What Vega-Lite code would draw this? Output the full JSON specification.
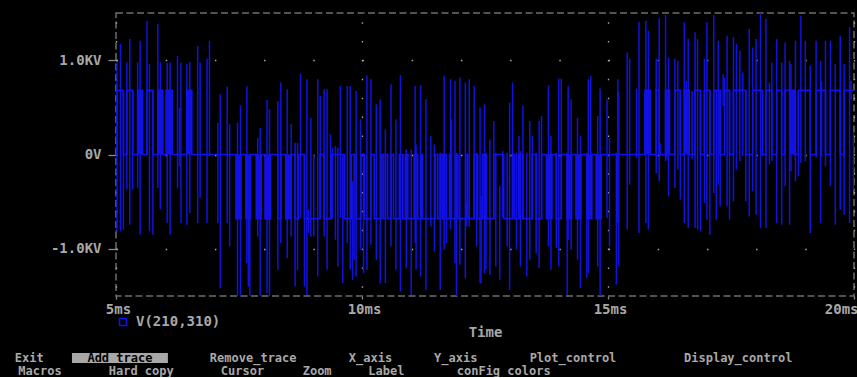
{
  "$schema": "https://vega.github.io/schema/vega-lite/v6.json",
  "background": "#000000",
  "padding": {"left": 14, "top": 12, "right": 0, "bottom": 0},
  "spacing": 12,
  "config": {
    "view": {"stroke": null},
    "font": "DejaVu Sans Mono",
    "text": {"font": "DejaVu Sans Mono", "fontSize": 12, "fontWeight": "bold"}
  },
  "datasets": {
    "lvl": [
      {"t":5.0,"v":0},{"t":5.02,"v":0.68},{"t":5.15,"v":0},{"t":5.22,"v":0.68},{"t":5.34,"v":0},{"t":5.44,"v":0.68},{"t":5.54,"v":0},{"t":5.63,"v":0.68},{"t":5.75,"v":0},{"t":5.85,"v":0.68},{"t":5.95,"v":0},{"t":6.02,"v":0.68},{"t":6.14,"v":0},{"t":6.44,"v":0.68},{"t":6.54,"v":0},
      {"t":7.44,"v":-0.68},{"t":7.54,"v":0},{"t":7.64,"v":-0.68},{"t":7.73,"v":0},{"t":7.85,"v":-0.68},{"t":7.95,"v":0},{"t":8.03,"v":-0.68},{"t":8.14,"v":0},{"t":8.29,"v":-0.68},{"t":8.35,"v":0},{"t":8.45,"v":-0.68},{"t":8.56,"v":0},{"t":8.64,"v":-0.68},{"t":8.71,"v":0},{"t":8.83,"v":-0.68},{"t":9.15,"v":0},{"t":9.23,"v":-0.68},{"t":9.38,"v":0},{"t":9.64,"v":-0.68},{"t":9.78,"v":0},{"t":9.88,"v":-0.68},{"t":9.98,"v":0},{"t":10.05,"v":-0.68},{"t":10.18,"v":0},{"t":10.25,"v":-0.68},{"t":10.39,"v":0},{"t":10.43,"v":-0.68},{"t":10.475,"v":0},{"t":10.52,"v":-0.68},{"t":10.59,"v":0},{"t":10.64,"v":-0.68},{"t":10.76,"v":0},{"t":10.83,"v":-0.68},{"t":10.88,"v":0},{"t":10.93,"v":-0.68},{"t":11.06,"v":0},{"t":11.13,"v":-0.68},{"t":11.2,"v":0},{"t":11.23,"v":-0.68},{"t":11.49,"v":0},{"t":11.54,"v":-0.68},{"t":11.59,"v":0},{"t":11.63,"v":-0.68},{"t":11.67,"v":0},{"t":11.71,"v":-0.68},{"t":11.78,"v":0},{"t":11.81,"v":-0.68},{"t":11.91,"v":0},{"t":11.95,"v":-0.68},{"t":12.11,"v":0},{"t":12.15,"v":-0.68},{"t":12.28,"v":0},{"t":12.35,"v":-0.68},{"t":12.45,"v":0},{"t":12.49,"v":-0.68},{"t":12.68,"v":0},{"t":12.88,"v":-0.68},{"t":13.06,"v":0},{"t":13.1,"v":-0.68},{"t":13.19,"v":0},{"t":13.27,"v":-0.68},{"t":13.46,"v":0},{"t":13.54,"v":-0.68},{"t":13.65,"v":0},{"t":13.75,"v":-0.68},{"t":13.86,"v":0},{"t":13.95,"v":-0.68},{"t":14.05,"v":0},{"t":14.17,"v":-0.68},{"t":14.26,"v":0},{"t":14.35,"v":-0.68},{"t":14.45,"v":0},{"t":14.57,"v":-0.68},{"t":14.67,"v":0},{"t":14.76,"v":-0.68},{"t":14.86,"v":0},
      {"t":15.75,"v":0.68},{"t":15.86,"v":0},{"t":15.98,"v":0.68},{"t":16.04,"v":0},{"t":16.17,"v":0.68},{"t":16.25,"v":0},{"t":16.36,"v":0.68},{"t":16.47,"v":0},{"t":16.55,"v":0.68},{"t":16.65,"v":0},{"t":16.77,"v":0.68},{"t":16.88,"v":0},{"t":16.96,"v":0.68},{"t":17.07,"v":0},{"t":17.15,"v":0.68},{"t":17.28,"v":0},{"t":17.37,"v":0.68},{"t":17.47,"v":0},{"t":17.55,"v":0.68},{"t":17.8,"v":0},{"t":17.94,"v":0.68},{"t":18.14,"v":0},{"t":18.21,"v":0.68},{"t":18.33,"v":0},{"t":18.43,"v":0.68},{"t":18.53,"v":0},{"t":18.6,"v":0.68},{"t":18.79,"v":0},{"t":18.87,"v":0.68},{"t":19.11,"v":0},{"t":19.23,"v":0.68},{"t":19.42,"v":0},{"t":19.52,"v":0.68},{"t":19.72,"v":0},{"t":19.8,"v":0.68},{"t":20.0,"v":0.68}
    ],
    "bnd": [
      {"t1":5.44,"t2":5.54,"lo":0,"hi":0.68},{"t1":5.85,"t2":5.95,"lo":0,"hi":0.68},{"t1":6.02,"t2":6.14,"lo":0,"hi":0.68},{"t1":6.44,"t2":6.54,"lo":0,"hi":0.68},
      {"t1":15.75,"t2":15.86,"lo":0,"hi":0.68},{"t1":16.17,"t2":16.25,"lo":0,"hi":0.68},{"t1":16.55,"t2":16.65,"lo":0,"hi":0.68},{"t1":18.69,"t2":18.79,"lo":0,"hi":0.68},
      {"t1":7.44,"t2":7.54,"lo":-0.68,"hi":0},{"t1":7.64,"t2":7.73,"lo":-0.68,"hi":0},{"t1":7.85,"t2":7.95,"lo":-0.68,"hi":0},{"t1":8.03,"t2":8.14,"lo":-0.68,"hi":0},{"t1":8.45,"t2":8.56,"lo":-0.68,"hi":0},
      {"t1":12.49,"t2":12.55,"lo":-0.68,"hi":0},{"t1":13.75,"t2":13.86,"lo":-0.68,"hi":0},{"t1":14.17,"t2":14.26,"lo":-0.68,"hi":0},{"t1":14.35,"t2":14.45,"lo":-0.68,"hi":0},{"t1":14.57,"t2":14.67,"lo":-0.68,"hi":0},{"t1":14.76,"t2":14.86,"lo":-0.68,"hi":0}
    ],
    "spk": [
      {"t":5.02,"lo":-0.815,"hi":0.976},{"t":5.09,"lo":-0.815,"hi":1.171},{"t":5.15,"lo":-0.797,"hi":0.674},{"t":5.22,"lo":-0.372,"hi":0.976},{"t":5.28,"lo":-0.744,"hi":1.224},{"t":5.34,"lo":-0.372,"hi":0.657},{"t":5.44,"lo":-0.354,"hi":0.976},{"t":5.49,"lo":-0.851,"hi":1.206},{"t":5.63,"lo":0,"hi":1.419},{"t":5.68,"lo":-0.815,"hi":0.958},{"t":5.75,"lo":-0.851,"hi":0.674},{"t":5.85,"lo":-0.354,"hi":1.383},{"t":5.9,"lo":-0.578,"hi":0.976},{"t":6.04,"lo":-0.726,"hi":0.976},{"t":6.1,"lo":-0.851,"hi":0.976},{"t":6.25,"lo":-0.354,"hi":1.047},{"t":6.29,"lo":-0.124,"hi":0.497},{"t":6.32,"lo":-0.726,"hi":0.976},{"t":6.44,"lo":-0.744,"hi":0.958},{"t":6.5,"lo":-0.62,"hi":0.983},{"t":6.66,"lo":-0.726,"hi":1.153},{"t":6.71,"lo":-0.46,"hi":0.976},{"t":6.85,"lo":-0.726,"hi":1.018},{"t":6.9,"lo":-0.017,"hi":1.206},
      {"t":7.07,"lo":-0.726,"hi":0.337},{"t":7.12,"lo":-1.418,"hi":0.639},{"t":7.26,"lo":-0.726,"hi":0.72},{"t":7.31,"lo":-0.975,"hi":0.32},{"t":7.47,"lo":-1.507,"hi":0.337},{"t":7.53,"lo":-1.507,"hi":0.522},{"t":7.66,"lo":-1.152,"hi":0.72},{"t":7.69,"lo":-1.4,"hi":0},{"t":7.72,"lo":-1.507,"hi":0},{"t":7.88,"lo":-0.868,"hi":0.178},{"t":7.93,"lo":-1.507,"hi":0.284},{"t":8.07,"lo":-1.471,"hi":0.578},{"t":8.12,"lo":-1.507,"hi":0.479},{"t":8.29,"lo":-1.223,"hi":0.568},{"t":8.35,"lo":-0.939,"hi":0.763},{"t":8.48,"lo":-1.099,"hi":0.692},{"t":8.56,"lo":-0.868,"hi":0.32},{"t":8.64,"lo":-1.4,"hi":0.125},{"t":8.69,"lo":-1.223,"hi":0.125},
      {"t":8.75,"lo":-0.673,"hi":0.852},{"t":8.83,"lo":-1.4,"hi":0},{"t":8.88,"lo":-1.489,"hi":0.798},{"t":8.91,"lo":-0.833,"hi":-0.585},{"t":8.96,"lo":-0.868,"hi":0.39},{"t":9.02,"lo":-0.868,"hi":0},{"t":9.1,"lo":-1.294,"hi":0.798},{"t":9.15,"lo":-0.673,"hi":0.621},{"t":9.23,"lo":-0.868,"hi":0.692},{"t":9.29,"lo":-1.223,"hi":0.692},{"t":9.36,"lo":-0.673,"hi":0.213},{"t":9.4,"lo":-0.673,"hi":0.071},{"t":9.46,"lo":-0.904,"hi":0.089},{"t":9.51,"lo":-1.188,"hi":0.071},{"t":9.56,"lo":-0.673,"hi":0.727},{"t":9.61,"lo":-1.365,"hi":0},{"t":9.7,"lo":-0.939,"hi":0.727},{"t":9.76,"lo":-1.223,"hi":0.727},{"t":9.81,"lo":-1.329,"hi":-0.283},{"t":9.84,"lo":-1.117,"hi":0},{"t":9.88,"lo":-1.294,"hi":0.674},{"t":9.97,"lo":-1.01,"hi":0.373},
      {"t":10.03,"lo":-1.258,"hi":0.018},{"t":10.1,"lo":-1.223,"hi":0.841},{"t":10.18,"lo":-0.957,"hi":0.798},{"t":10.29,"lo":-1.117,"hi":0.532},{"t":10.37,"lo":-1.365,"hi":0.586},{"t":10.475,"lo":-1.365,"hi":0.266},{"t":10.59,"lo":-0.975,"hi":0.745},{"t":10.69,"lo":-1.223,"hi":0.373},{"t":10.78,"lo":-1.454,"hi":0.841},{"t":10.9,"lo":-1.205,"hi":0.054},{"t":11.0,"lo":-1.489,"hi":0.054},{"t":11.08,"lo":-0.939,"hi":0.727},{"t":11.1,"lo":-1.223,"hi":0.107},{"t":11.19,"lo":-1.294,"hi":0.734},{"t":11.3,"lo":-1.436,"hi":0.586},{"t":11.4,"lo":-0.762,"hi":0.195},{"t":11.47,"lo":-1.028,"hi":0.107},{"t":11.59,"lo":-1.436,"hi":0.018},{"t":11.67,"lo":-1.01,"hi":0.834},{"t":11.72,"lo":-0.939,"hi":-0.532},{"t":11.8,"lo":-0.797,"hi":0.798},{"t":11.82,"lo":-0.673,"hi":0.373},{"t":11.89,"lo":-1.152,"hi":0.781},{"t":11.92,"lo":-1.507,"hi":0.018},{"t":11.99,"lo":-1.17,"hi":0.816},
      {"t":12.1,"lo":-1.312,"hi":0.763},{"t":12.13,"lo":-0.762,"hi":-0.514},{"t":12.18,"lo":-0.762,"hi":0.798},{"t":12.28,"lo":-0.673,"hi":0.727},{"t":12.33,"lo":-0.975,"hi":0.018},{"t":12.4,"lo":-1.365,"hi":0.497},{"t":12.42,"lo":-1.365,"hi":-0.443},{"t":12.49,"lo":-1.258,"hi":0.532},{"t":12.52,"lo":-1.223,"hi":0.018},{"t":12.6,"lo":-1.276,"hi":0.16},{"t":12.68,"lo":-0.673,"hi":0.355},{"t":12.72,"lo":-1.188,"hi":0.018},{"t":12.8,"lo":-1.329,"hi":-0.336},{"t":12.86,"lo":-0.673,"hi":0.036},{"t":12.95,"lo":-0.975,"hi":0.018},
      {"t":13.0,"lo":-1.436,"hi":0.55},{"t":13.06,"lo":-0.673,"hi":0.763},{"t":13.14,"lo":-1.01,"hi":0.018},{"t":13.19,"lo":-0.673,"hi":0.195},{"t":13.22,"lo":-1.188,"hi":0.036},{"t":13.27,"lo":-0.673,"hi":0.515},{"t":13.35,"lo":-1.294,"hi":0.018},{"t":13.41,"lo":-1.117,"hi":0.355},{"t":13.46,"lo":-0.673,"hi":0.195},{"t":13.54,"lo":-1.046,"hi":0.018},{"t":13.6,"lo":-1.205,"hi":0.355},{"t":13.65,"lo":-0.673,"hi":0.408},{"t":13.79,"lo":-0.975,"hi":0.734},{"t":13.84,"lo":-1.223,"hi":0.195},{"t":13.95,"lo":-0.992,"hi":0.018},
      {"t":14.0,"lo":-1.188,"hi":0.805},{"t":14.05,"lo":-0.673,"hi":0.805},{"t":14.17,"lo":-1.489,"hi":0.018},{"t":14.19,"lo":-0.904,"hi":0.727},{"t":14.25,"lo":-1.01,"hi":0.586},{"t":14.38,"lo":-1.117,"hi":0.39},{"t":14.44,"lo":-1.418,"hi":0.195},{"t":14.57,"lo":-1.312,"hi":0.018},{"t":14.6,"lo":-1.258,"hi":0.798},{"t":14.65,"lo":-0.673,"hi":0.834},{"t":14.79,"lo":-1.188,"hi":0.408},{"t":14.84,"lo":-1.507,"hi":0.699},{"t":14.98,"lo":-0.673,"hi":0.586},
      {"t":15.03,"lo":-0.975,"hi":0.178},{"t":15.17,"lo":-1.38,"hi":0.018},{"t":15.2,"lo":-0.726,"hi":0.798},{"t":15.22,"lo":-1.188,"hi":0.657},{"t":15.39,"lo":-0.797,"hi":1.082},{"t":15.44,"lo":-0.319,"hi":1.018},{"t":15.58,"lo":-0.035,"hi":0.699},{"t":15.63,"lo":-0.833,"hi":1.408},{"t":15.77,"lo":-0.726,"hi":1.419},{"t":15.82,"lo":-0.797,"hi":1.312},{"t":15.98,"lo":-0.195,"hi":1.018},
      {"t":16.04,"lo":-0.283,"hi":1.444},{"t":16.06,"lo":-0.017,"hi":0.125},{"t":16.17,"lo":-0.07,"hi":1.479},{"t":16.2,"lo":-0.053,"hi":0.692},{"t":16.23,"lo":-0.443,"hi":1.029},{"t":16.36,"lo":-0.354,"hi":1.018},{"t":16.42,"lo":-0.159,"hi":0.993},{"t":16.47,"lo":-0.478,"hi":0.674},{"t":16.55,"lo":-0.726,"hi":1.401},{"t":16.59,"lo":0.586,"hi":0.781},{"t":16.63,"lo":-0.78,"hi":1.224},{"t":16.71,"lo":-0.053,"hi":0.674},{"t":16.77,"lo":-0.78,"hi":1.295},{"t":16.82,"lo":-0.797,"hi":1.224},{"t":16.88,"lo":-0.815,"hi":0.674},{"t":16.96,"lo":-0.514,"hi":1.018},
      {"t":17.01,"lo":-0.691,"hi":1.401},{"t":17.07,"lo":-0.851,"hi":0.674},{"t":17.15,"lo":-0.407,"hi":1.479},{"t":17.2,"lo":-0.691,"hi":0.674},{"t":17.24,"lo":-0.319,"hi":1.206},{"t":17.28,"lo":-0.549,"hi":0.674},{"t":17.34,"lo":0.515,"hi":0.852},{"t":17.37,"lo":0.515,"hi":0.816},{"t":17.42,"lo":-0.549,"hi":1.259},{"t":17.47,"lo":-0.691,"hi":0.674},{"t":17.55,"lo":-0.496,"hi":1.242},{"t":17.61,"lo":-0.159,"hi":1.171},{"t":17.68,"lo":-0.07,"hi":1.1},{"t":17.74,"lo":-0.017,"hi":0.869},{"t":17.8,"lo":-0.496,"hi":0.674},{"t":17.87,"lo":-0.656,"hi":1.33},{"t":17.94,"lo":-0.39,"hi":1.135},
      {"t":18.01,"lo":-0.638,"hi":1.224},{"t":18.1,"lo":-0.78,"hi":1.508},{"t":18.14,"lo":-0.017,"hi":0.674},{"t":18.21,"lo":-0.78,"hi":1.437},{"t":18.28,"lo":-0.106,"hi":0.763},{"t":18.33,"lo":-0.07,"hi":0.976},{"t":18.43,"lo":-0.726,"hi":1.224},{"t":18.53,"lo":-0.744,"hi":0.976},{"t":18.6,"lo":-0.336,"hi":1.188},{"t":18.69,"lo":-0.744,"hi":0.993},{"t":18.72,"lo":-0.177,"hi":0.958},{"t":18.75,"lo":0.125,"hi":0.674},{"t":18.81,"lo":-0.283,"hi":1.206},{"t":18.87,"lo":-0.23,"hi":0.674},{"t":18.92,"lo":-0.088,"hi":1.472},
      {"t":19.01,"lo":-0.07,"hi":1.206},{"t":19.11,"lo":-0.833,"hi":0.94},{"t":19.23,"lo":-0.035,"hi":1.206},{"t":19.32,"lo":-0.726,"hi":0.993},{"t":19.34,"lo":-0.017,"hi":0.781},{"t":19.42,"lo":-0.124,"hi":1.206},{"t":19.52,"lo":-0.336,"hi":1.206},{"t":19.62,"lo":-0.744,"hi":0.958},{"t":19.72,"lo":-0.585,"hi":1.259},{"t":19.8,"lo":-0.638,"hi":0.958},{"t":19.91,"lo":-0.726,"hi":1.348},{"t":19.94,"lo":0.586,"hi":0.781},{"t":19.99,"lo":-0.372,"hi":0.231}
    ],
    "menu": [
      {"row":0,"c0":0,"c1":4,"mid":2,"word":"Exit","sel":false},
      {"row":0,"c0":6,"c1":15,"mid":10.5,"word":"Add_trace","sel":true},
      {"row":0,"c0":17,"c1":29,"mid":23,"word":"Remove_trace","sel":false},
      {"row":0,"c0":31,"c1":37,"mid":34,"word":"X_axis","sel":false},
      {"row":0,"c0":39,"c1":45,"mid":42,"word":"Y_axis","sel":false},
      {"row":0,"c0":47,"c1":59,"mid":53,"word":"Plot_control","sel":false},
      {"row":0,"c0":61,"c1":76,"mid":68.5,"word":"Display_control","sel":false},
      {"row":1,"c0":0,"c1":6,"mid":3,"word":"Macros","sel":false},
      {"row":1,"c0":8,"c1":17,"mid":12.5,"word":"Hard_copy","sel":false},
      {"row":1,"c0":19,"c1":25,"mid":22,"word":"Cursor","sel":false},
      {"row":1,"c0":27,"c1":31,"mid":29,"word":"Zoom","sel":false},
      {"row":1,"c0":33,"c1":38,"mid":35.5,"word":"Label","sel":false},
      {"row":1,"c0":40,"c1":53,"mid":46.5,"word":"conFig_colors","sel":false}
    ]
  },
  "vconcat": [
    {
      "width": 738,
      "height": 283,
      "view": {"stroke": "#6e6e6e", "strokeDash": [7, 3.5], "strokeWidth": 1.5},
      "encoding": {
        "x": {
          "type": "quantitative",
          "scale": {"domain": [5, 20], "nice": false, "zero": false},
          "axis": {
            "values": [5, 10, 15, 20],
            "labelExpr": "datum.value + 'ms'",
            "title": "Time",
            "domain": false,
            "grid": true,
            "gridColor": "#a8a8a8",
            "gridWidth": 1.3,
            "gridDash": [1.5, 17.37],
            "gridDashOffset": 10.2,
            "ticks": true,
            "tickSize": 3,
            "tickColor": "#8a8a8a",
            "tickWidth": 1.3,
            "labelColor": "#a8a8a8",
            "labelFont": "DejaVu Sans Mono",
            "labelFontSize": 14,
            "labelFontWeight": "bold",
            "labelPadding": 3,
            "labelAlign": {"condition": {"test": "datum.value === 20", "value": "right"}, "value": "center"},
            "labelOffset": {"condition": {"test": "datum.value === 20", "value": 4}, "value": 2},
            "titleColor": "#a8a8a8",
            "titleFont": "DejaVu Sans Mono",
            "titleFontSize": 14,
            "titleFontWeight": "bold",
            "titlePadding": 9
          }
        },
        "y": {
          "type": "quantitative",
          "scale": {"domain": [-1.5, 1.5], "nice": false, "zero": false},
          "axis": {
            "values": [-1, 0, 1],
            "labelExpr": "datum.value == 1 ? '1.0KV' : (datum.value == 0 ? '0V' : '-1.0KV')",
            "title": null,
            "domain": false,
            "grid": true,
            "gridColor": "#a8a8a8",
            "gridWidth": 1.3,
            "gridDash": [1.5, 47.7],
            "ticks": true,
            "tickSize": 8,
            "tickColor": "#8a8a8a",
            "tickWidth": 1.3,
            "labelColor": "#a8a8a8",
            "labelFont": "DejaVu Sans Mono",
            "labelFontSize": 14,
            "labelFontWeight": "bold",
            "labelPadding": 7
          }
        }
      },
      "layer": [
        {
          "data": {"name": "bnd"},
          "mark": {"type": "rect", "color": "#1212e6", "clip": true},
          "encoding": {
            "x": {"field": "t1", "type": "quantitative"},
            "x2": {"field": "t2"},
            "y": {"field": "lo", "type": "quantitative"},
            "y2": {"field": "hi"}
          }
        },
        {
          "data": {"name": "spk"},
          "mark": {"type": "rule", "color": "#1212e0", "strokeWidth": 1.5, "clip": true},
          "encoding": {
            "x": {"field": "t", "type": "quantitative"},
            "y": {"field": "lo", "type": "quantitative"},
            "y2": {"field": "hi"}
          }
        },
        {
          "data": {"name": "lvl"},
          "mark": {"type": "line", "interpolate": "step-after", "strokeWidth": 1.7, "clip": true},
          "encoding": {
            "x": {"field": "t", "type": "quantitative"},
            "y": {"field": "v", "type": "quantitative"},
            "color": {
              "datum": "V(210,310)",
              "type": "nominal",
              "scale": {"range": ["#1212e6"]},
              "legend": {
                "orient": "none",
                "legendX": 0,
                "legendY": 302,
                "title": null,
                "padding": 0,
                "symbolType": "square",
                "symbolSize": 49,
                "symbolStrokeWidth": 1.6,
                "symbolFillColor": "transparent",
                "labelColor": "#a8a8a8",
                "labelFont": "DejaVu Sans Mono",
                "labelFontSize": 14,
                "labelFontWeight": "bold",
                "labelOffset": 6
              }
            }
          }
        }
      ]
    },
    {
      "width": 738,
      "height": 13,
      "data": {"name": "menu"},
      "view": {"stroke": null},
      "encoding": {
        "y": {"field": "row", "type": "quantitative", "scale": {"domain": [0, 1], "reverse": true, "nice": false}, "axis": null}
      },
      "layer": [
        {
          "transform": [{"filter": "datum.sel"}],
          "mark": {"type": "rect", "color": "#a8a8a8", "height": 10},
          "encoding": {
            "x": {"field": "c0", "type": "quantitative", "scale": {"domain": [10.131, 79.362], "nice": false, "zero": false}, "axis": null},
            "x2": {"field": "c1"}
          }
        },
        {
          "mark": {"type": "text", "baseline": "middle", "align": "center", "font": "DejaVu Sans Mono", "fontSize": 12, "fontWeight": "bold"},
          "encoding": {
            "x": {"field": "mid", "type": "quantitative", "axis": null},
            "text": {"field": "word"},
            "color": {"condition": {"test": "datum.sel", "value": "#000000"}, "value": "#a8a8a8"}
          }
        }
      ]
    }
  ]
}
